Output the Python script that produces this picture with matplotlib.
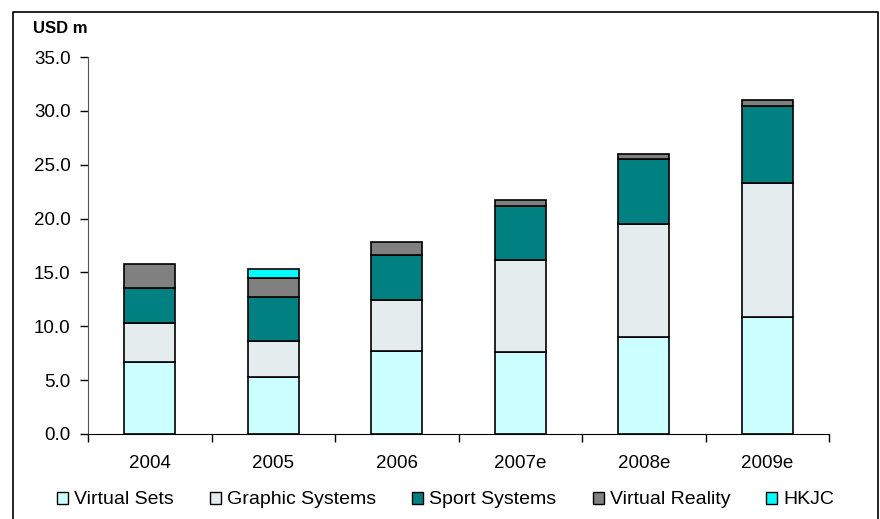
import matplotlib

matplotlib.use("Agg")
import matplotlib.pyplot as plt
import numpy as np
from matplotlib.lines import Line2D
from matplotlib.patches import Patch

plt.rcParams["font.family"] = ["Liberation Sans", "DejaVu Sans"]

years = ["2004", "2005", "2006", "2007e", "2008e", "2009e"]
segments = ["Virtual Sets", "Graphic Systems", "Sport Systems", "Virtual Reality", "HKJC"]
virtual_sets = [6.7, 5.3, 7.7, 7.6, 9.0, 10.9]
graphic_systems = [3.6, 3.3, 4.7, 8.6, 10.5, 12.4]
sport_systems = [3.3, 4.1, 4.2, 5.0, 6.0, 7.15]
virtual_reality = [2.2, 1.75, 1.2, 0.5, 0.5, 0.55]
hkjc = [0.0, 0.9, 0.0, 0.0, 0.0, 0.0]
colors = ["#CCFFFF", "#E4ECEE", "#008080", "#808080", "#00FFFF"]

fig = plt.figure(figsize=(8.8, 5.19), dpi=100)
ax = fig.add_axes([88 / 880, 85 / 519, 741 / 880, 377 / 519])

x = np.arange(len(years))
bottom = np.zeros(len(years))
for name, vals, col in zip(segments, [virtual_sets, graphic_systems, sport_systems,
                                      virtual_reality, hkjc], colors):
    vals = np.array(vals)
    mask = vals > 0
    ax.bar(x[mask], vals[mask], width=0.41, bottom=bottom[mask], color=col,
           edgecolor="black", linewidth=1.2, zorder=3)
    bottom += vals

ax.set_xlim(-0.5, len(years) - 0.5)
ax.set_ylim(0, 35)
ax.set_yticks(np.arange(0, 35.1, 5))
ax.set_yticklabels([f"{v:.1f}" for v in np.arange(0, 35.1, 5)])
ax.set_xticks(np.arange(-0.5, len(years), 1.0))
ax.set_xticklabels([])
ax.set_xticks(x, minor=True)
ax.set_xticklabels(years, minor=True)
ax.tick_params(axis="x", which="minor", length=0, pad=15, labelsize=13.5)
ax.tick_params(axis="x", which="major", length=6, width=1, direction="out")
ax.tick_params(axis="y", length=6, width=1, direction="out", labelsize=13.5, pad=6.5)
for side in ["top", "right"]:
    ax.spines[side].set_visible(False)
ax.spines["left"].set_color("#555555")

fig.text(33 / 880, 1 - 28.5 / 519, "USD m", fontsize=12, fontweight="bold",
         va="center", ha="left")

handles = [Patch(facecolor=c, edgecolor="black", linewidth=1) for c in colors]
fig.legend(handles, segments, loc="center", bbox_to_anchor=(445.5 / 880, 1 - 500 / 519),
           ncol=5, frameon=False, fontsize=14, handlelength=0.57, handleheight=0.57,
           handletextpad=0.31, columnspacing=1.86, borderpad=0, borderaxespad=0)

# outer frame around the chart
fig.add_artist(Line2D([13 / 880, 13 / 880, 878 / 880, 878 / 880],
                      [0, 1 - 12 / 519, 1 - 12 / 519, 0],
                      transform=fig.transFigure, color="black", linewidth=1.2))

fig.savefig("out.png", dpi=100)
